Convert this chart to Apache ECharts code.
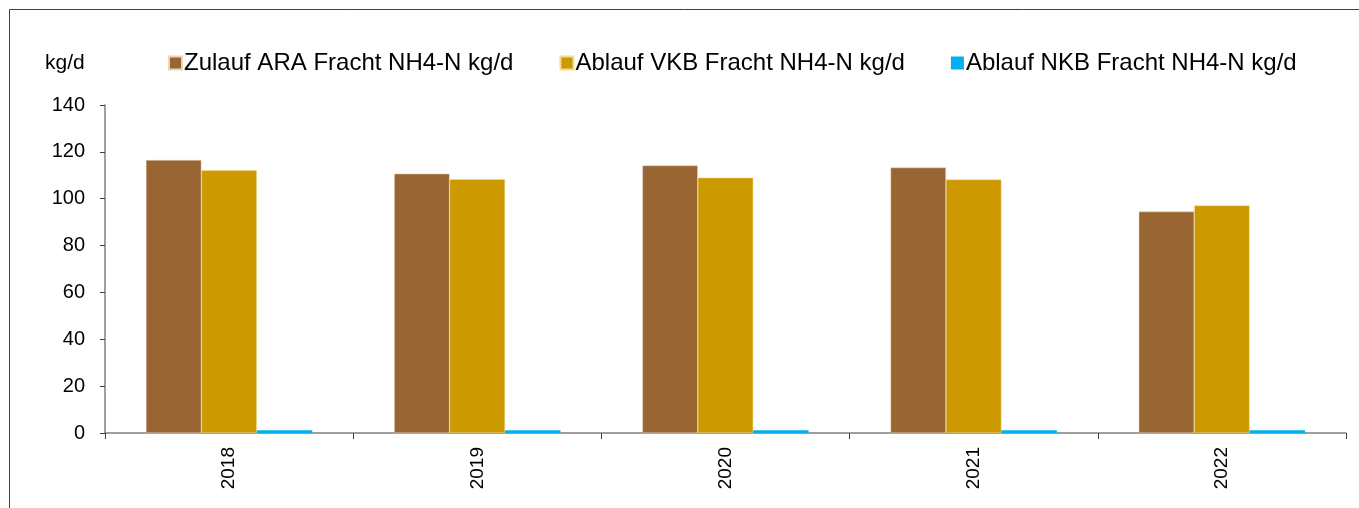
<!DOCTYPE html>
<html><head><meta charset="utf-8">
<script src="https://cdn.jsdelivr.net/npm/echarts@6/dist/echarts.min.js"></script>
<style>html,body{margin:0;padding:0;background:#fff}#c{width:1359px;height:508px}</style>
</head><body><div id="c"></div>
<script>
const categories = ['2018','2019','2020','2021','2022'];
const zulauf = [116.5, 110.7, 114.2, 113.3, 94.5];
const ablaufVKB = [112.2, 108.3, 109.0, 108.2, 97.1];
const ablaufNKB = [1.2, 1.2, 1.2, 1.2, 1.2];
const yTicks = [0, 20, 40, 60, 80, 100, 120, 140];
const names = ['Zulauf ARA Fracht NH4-N kg/d','Ablauf VKB Fracht NH4-N kg/d','Ablauf NKB Fracht NH4-N kg/d'];
const colors = ['#996633','#cc9900','#00b0f0'];
const font = 'Liberation Sans, Arial, sans-serif';
const chart = echarts.init(document.getElementById('c'));
chart.setOption({
  animation: false,
  textStyle: {fontFamily: font},
  graphic: [
    {type:'rect', shape:{x:9.5,y:9.5,width:1400,height:600}, style:{fill:'none', stroke:'#404040', lineWidth:1}},
    {type:'text', left:45, top:53, style:{text:'kg/d', fontSize:21, fontFamily:font, fill:'#000'}}
  ],
  legend: {
    left: 163, top: 46, itemWidth: 13, itemHeight: 13, itemGap: 46,
    icon: 'rect',
    textStyle: {fontSize: 24, fontFamily: font, color:'#000', padding:[0,0,0,-3]},
    data: names
  },
  grid: {left: 105, right: 13, top: 105, bottom: 75, containLabel: false},
  xAxis: {
    type: 'category', data: categories,
    axisLine: {lineStyle: {color:'#808080', width:1.5}},
    axisTick: {show:true, length:6, lineStyle:{color:'#404040'}},
    axisLabel: {rotate: 90, fontSize: 19, color:'#000', margin: 14, fontFamily: font}
  },
  yAxis: {
    type: 'value', min: 0, max: 140, interval: 20,
    axisLine: {show:true, lineStyle:{color:'#808080', width:1.5}},
    axisTick: {show:true, length:5, lineStyle:{color:'#404040'}},
    splitLine: {show:false},
    axisLabel: {fontSize: 20, color:'#000', margin: 20, fontFamily: font,
      formatter: v => yTicks.includes(v) ? String(v) : ''}
  },
  series: [
    {name: names[0], type:'bar', data: zulauf, barGap:'0%', barCategoryGap:'33%', itemStyle:{color:colors[0], borderColor:'#e8d5c0', borderWidth:0.5}},
    {name: names[1], type:'bar', data: ablaufVKB, barGap:'0%', barCategoryGap:'33%', itemStyle:{color:colors[1], borderColor:'#f0dc9a', borderWidth:0.5}},
    {name: names[2], type:'bar', data: ablaufNKB, barGap:'0%', barCategoryGap:'33%', itemStyle:{color:colors[2]}}
  ]
});
</script></body></html>
